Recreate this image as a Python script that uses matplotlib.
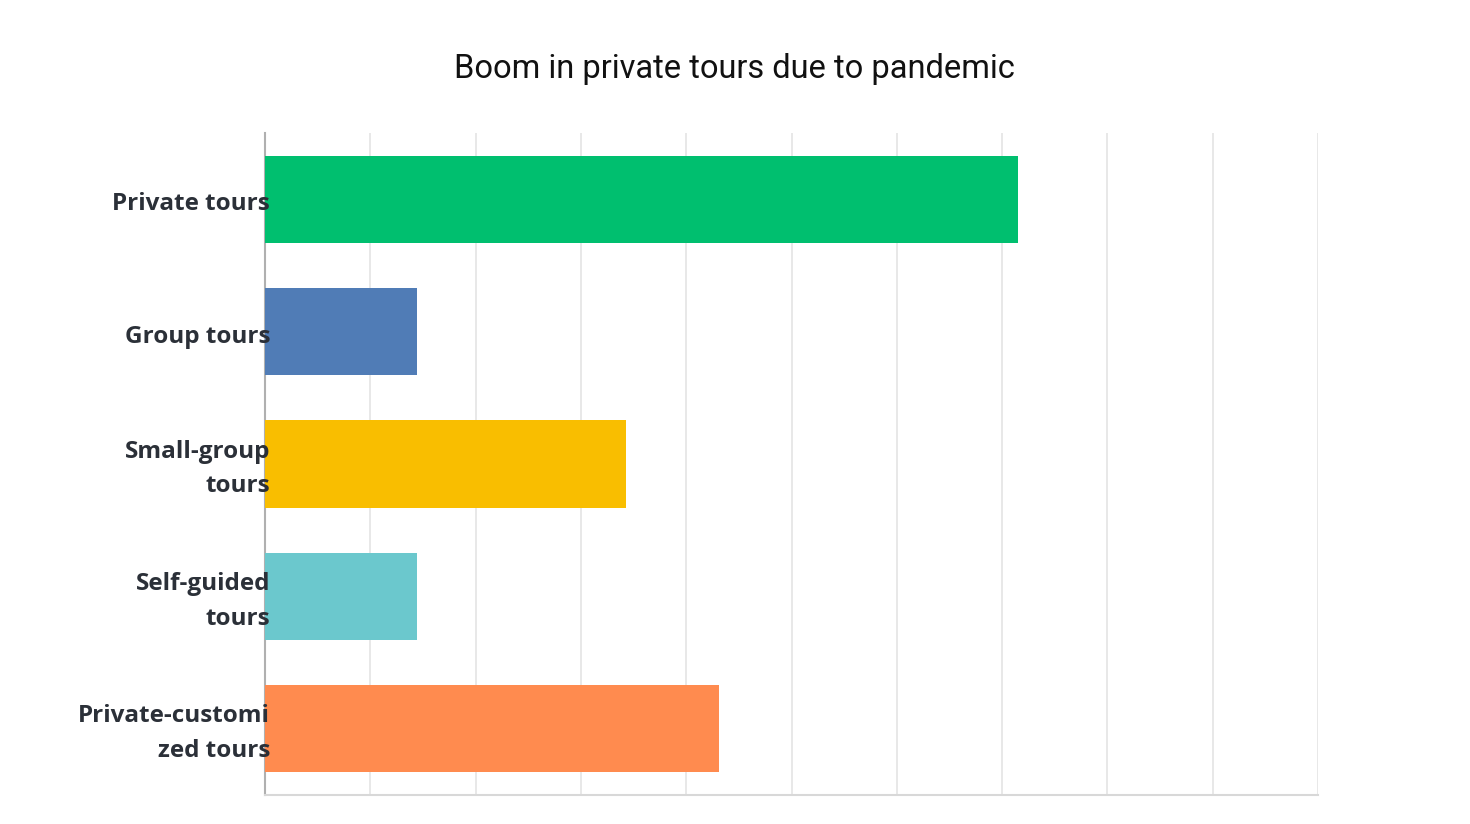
import matplotlib.pyplot as plt
import matplotlib.transforms as mtransforms
import numpy as np

# data (percent)
categories = ['Private tours', 'Group tours', 'Small-group\ntours', 'Self-guided\ntours', 'Private-customi\nzed tours']
values = [71.5, 14.4, 34.3, 14.4, 43.1]
colors = ['#00BF6F', '#507CB6', '#F9BE00', '#6BC8CD', '#FF8B4F']

fig = plt.figure(figsize=(14.7, 8.24), dpi=100)
ax = fig.add_axes([0.1803, 0.0352, 0.7163, 0.8034])

y = np.arange(len(categories))
ax.barh(y, values, height=0.66, color=colors, zorder=3)
ax.set_ylim(len(categories) - 0.5, -0.5)
ax.set_xlim(0, 100)

ax.set_xticks(np.arange(0, 101, 10))
ax.set_xticklabels([])
ax.tick_params(axis='x', length=0)
ax.grid(axis='x', color='#e4e4e4', linewidth=1.2, zorder=0)

# category labels drawn as text so they sit on top of the bars
ax.set_yticks([])
offset = mtransforms.offset_copy(ax.get_yaxis_transform(), fig=fig, x=5, y=-5, units='dots')
for yi, lab in zip(y, categories):
    ax.text(0, yi, lab, transform=offset, ha='right', va='center', multialignment='right',
            fontsize=17.5, fontfamily='Open Sans', fontweight='bold',
            color='#2b3038', linespacing=1.6, zorder=6, clip_on=False)

for s in ['top', 'right']:
    ax.spines[s].set_visible(False)
ax.spines['left'].set_color('#b0b0b0')
ax.spines['left'].set_linewidth(1.5)
ax.spines['bottom'].set_color('#d8d8d8')
ax.spines['bottom'].set_linewidth(1.5)

fig.text(0.4993, 0.916, 'Boom in private tours due to pandemic', ha='center', va='center',
         fontsize=23.5, fontfamily='Roboto', color='#111111')

fig.savefig('out.png', dpi=100, facecolor='white')
